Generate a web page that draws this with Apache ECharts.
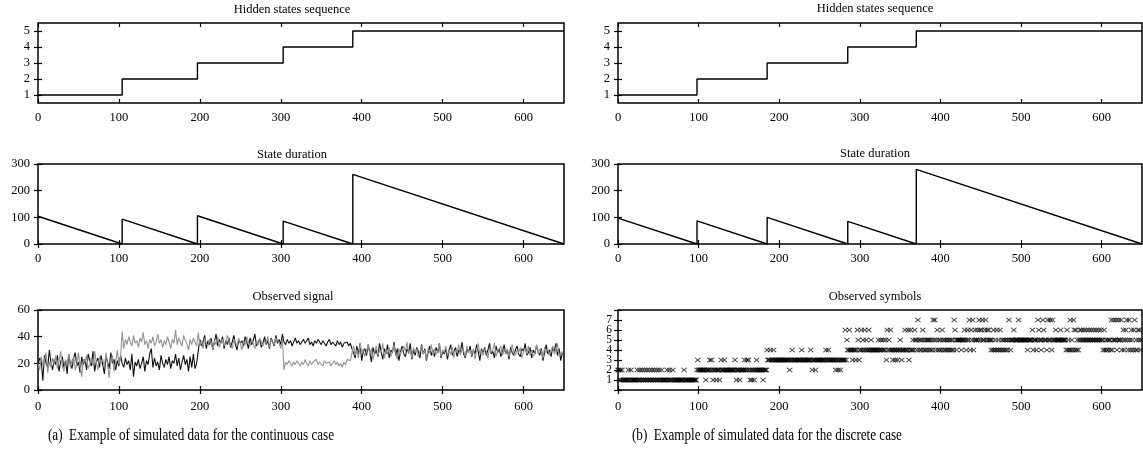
<!DOCTYPE html>
<html>
<head>
<meta charset="utf-8">
<script src="https://cdn.jsdelivr.net/npm/echarts@6/dist/echarts.min.js"></script>
<style>
  html, body { margin: 0; padding: 0; background: #fff; }
  #chart { width: 1143px; height: 456px; }
</style>
</head>
<body>
<div id="chart"></div>
<script>
// ---------- tick labels ----------
const xTicks = [0, 100, 200, 300, 400, 500, 600];
const stateTicks = [1, 2, 3, 4, 5];
const durationTicks = [0, 100, 200, 300];
const signalTicks = [0, 20, 40, 60];
const symbolTicks = [1, 2, 3, 4, 5, 6, 7];
const seqEnd = 650;

// ---------- continuous case ----------
const contStateStarts = [0, 104, 197, 303, 389];
const contDurations = [104, 93, 106, 86, 261];

// observed signal, one sample every 2 time steps
const signalStep = 2;
const signalBlack = [
  18, 24, 22, 7, 26, 20, 17, 30, 21, 15,
  23, 19, 26, 14, 21, 25, 17, 22, 12, 27,
  20, 16, 24, 28, 18, 21, 13, 25, 19, 23,
  15, 27, 22, 18, 29, 14, 21, 24, 17, 26,
  19, 12, 25, 21, 16, 28, 20, 23, 15, 22,
  18, 26,
  20, 17, 24, 19, 22, 15, 27, 10, 21, 18,
  23, 16, 20, 25, 14, 22, 19, 27, 31, 17,
  24, 18, 21, 15, 26, 20, 17, 23, 19, 25,
  16, 22, 20, 27, 18, 24, 15, 21, 26, 19,
  23, 14, 25, 17, 27, 16, 20,
  29, 38, 33, 36, 41, 31, 37, 34, 39, 30,
  36, 42, 33, 38, 35, 40, 31, 37, 34, 39,
  32, 36, 41, 34, 30, 38, 35, 37, 33, 40,
  36, 31, 39, 34, 37, 42, 33, 36, 38, 32,
  35, 40, 34, 37, 31, 39, 36, 33, 41, 35,
  38, 34, 42,
  36, 34, 38, 35, 37, 33, 36, 39, 35, 37,
  34, 36, 38, 35, 37, 39, 34, 36, 33, 37,
  35, 38, 36, 34, 37, 35, 33, 36, 38, 34,
  36, 35, 33, 37, 34, 36, 32, 35, 34, 36,
  33, 35, 31,
  30, 24, 33, 27, 35, 22, 29, 31, 26, 34,
  28, 21, 32, 27, 30, 25, 35, 29, 23, 31,
  27, 34, 24, 30, 28, 36, 26, 31, 22, 29,
  33, 27, 25, 31, 28, 35, 23, 30, 26, 32,
  29, 24, 34, 27, 31, 22, 28, 33, 26, 30,
  25, 32, 28, 35, 24, 29, 27, 31, 23, 30,
  34, 26, 29, 32, 25, 30, 28, 36, 27, 24,
  31, 28, 33, 25, 30, 27, 34, 29, 22, 31,
  28, 32, 26, 30, 35, 27, 29, 24, 33, 28,
  31, 25, 29, 34, 27, 30, 23, 32, 28, 26,
  30, 33, 27, 25, 31, 29, 35, 26, 28, 32,
  24, 30, 27, 33, 29, 26, 31, 22, 28, 34,
  27, 30, 25, 32, 29, 35, 26, 31, 22, 28
];
const signalGray = [
  20, 15, 25, 18, 22, 28, 13, 21, 17, 24,
  19, 26, 16, 22, 29, 18, 14, 23, 20, 27,
  17, 22, 25, 15, 20, 28, 18, 10, 23, 21,
  26, 16, 19, 24, 18, 29, 21, 15, 25, 20,
  23, 17, 28, 19, 9, 22, 26, 14, 21, 30,
  19, 24,
  44, 31, 38, 34, 40, 36, 33, 41, 35, 37,
  32, 39, 36, 43, 34, 37, 31, 38, 35, 40,
  33, 36, 42, 35, 38, 32, 37, 34, 40, 36,
  31, 38, 35, 45, 34, 39, 36, 33, 41, 37,
  35, 30, 38, 34, 39, 36, 33,
  43, 34, 37, 31, 39, 35, 33, 38, 36, 30,
  37, 34, 40, 32, 36, 38, 33, 35, 41, 37,
  34, 31, 38, 36, 33, 39, 35, 30, 37, 34,
  40, 36, 33, 38, 35, 31, 37, 34, 39, 36,
  33, 37, 35, 40, 32, 38, 36, 34, 39, 37,
  35, 31, 38,
  15, 21, 19, 22, 20, 18, 21, 19, 22, 20,
  18, 21, 19, 23, 20, 18, 22, 19, 21, 20,
  23, 19, 21, 20, 18, 22, 20, 19, 21, 18,
  20, 22, 19, 21, 18, 20, 17, 21, 19, 23,
  24, 22, 28,
  33, 26, 30, 24, 35, 28, 31, 25, 29, 34,
  27, 31, 23, 29, 33, 26, 30, 28, 35, 24,
  30, 27, 32, 25, 29, 34, 28, 23, 31, 27,
  26, 33, 29, 36, 27, 30, 24, 32, 28, 31,
  25, 29, 33, 27, 30, 23, 31, 28, 34, 26,
  31, 27, 29, 35, 25, 30, 28, 33, 26, 29,
  27, 32, 24, 30, 28, 34, 26, 31, 29, 25,
  33, 28, 30, 26, 31, 23, 29, 35, 27, 30,
  26, 31, 29, 24, 32, 28, 30, 35, 25, 29,
  28, 33, 26, 30, 27, 31, 25, 29, 34, 28,
  26, 30, 28, 32, 24, 29, 31, 27, 33, 26,
  30, 25, 28, 34, 27, 31, 29, 24, 32, 28,
  31, 26, 29, 33, 27, 30, 35, 25, 28, 29
];

// ---------- discrete case ----------
const discStateStarts = [0, 98, 185, 285, 370];
const discDurations = [97, 87, 100, 85, 280];

// observed symbol at every time step 0..649
const symbols = [
  2,2,1,2,1,2,1,1,1,1, 1,1,1,2,1,1,2,1,1,1, 1,1,1,1,2,1,1,2,1,1, 2,1,1,2,1,1,2,1,1,2,
  1,1,2,1,1,2,1,1,2,1, 1,2,1,1,2,1,1,1,1,1, 1,2,1,1,2,1,1,1,2,1, 1,1,1,1,1,1,1,1,1,1,
  1,1,2,1,1,1,1,1,1,1, 1,1,1,1,1,1,1,1,2,3, 2,2,2,2,2,2,2,2,2,1, 2,2,2,2,3,2,3,2,1,2,
  2,2,1,2,2,2,1,2,3,2, 2,2,3,2,2,2,2,2,2,2, 2,2,2,2,2,3,2,1,2,2, 2,1,2,2,2,2,2,3,2,2,
  3,2,3,2,1,2,1,2,2,1, 2,2,3,2,2,2,2,2,2,2, 1,2,2,2,2,4,3,3,3,4, 3,3,3,4,3,3,3,3,3,3,
  3,3,3,3,3,3,3,3,3,3, 3,3,3,2,3,3,4,3,3,3, 3,3,3,3,3,3,3,3,4,3, 3,3,3,3,3,3,3,3,3,4,
  3,2,3,3,3,2,3,3,3,3, 3,3,3,3,3,3,3,3,4,3, 3,4,3,3,3,3,3,3,3,3, 2,3,3,2,3,3,2,3,3,3,
  3,3,6,3,5,4,4,6,4,4, 4,3,4,4,4,3,4,6,5,3, 4,4,6,4,5,4,6,4,5,4, 4,6,4,4,5,4,4,4,4,4,
  4,4,4,5,4,4,5,4,4,5, 4,4,5,3,6,4,5,4,6,4, 4,3,4,4,3,4,4,3,4,4, 5,4,3,4,4,4,6,4,4,4,
  6,3,4,6,4,4,5,4,6,5, 5,4,7,5,4,5,4,5,6,4, 5,4,5,4,5,5,4,5,4,5, 4,7,5,7,4,5,6,4,5,4,
  5,4,6,5,4,5,4,5,4,5, 4,5,4,5,4,5,4,7,6,5, 4,5,5,5,5,5,4,5,5,5, 6,5,4,5,6,5,7,4,6,5,
  7,4,5,6,5,5,6,5,7,6, 5,6,7,5,5,6,7,5,6,5, 6,5,5,4,5,4,6,4,5,4, 6,4,5,4,6,4,5,4,5,4,
  5,4,5,4,5,7,5,4,5,5, 5,6,5,5,5,5,5,7,5,5, 5,5,5,5,5,5,5,5,4,5, 5,5,5,5,6,4,5,5,5,4,
  5,7,6,5,5,4,5,7,6,5, 5,5,4,7,5,5,7,5,4,7, 5,5,5,6,5,5,5,5,5,6, 5,5,5,5,5,5,4,6,4,5,
  4,7,4,5,4,7,6,4,6,4, 5,4,5,6,5,6,5,5,6,5, 5,6,5,5,6,5,5,6,5,5, 6,5,5,6,5,5,6,5,5,6,
  5,5,4,6,4,5,4,5,4,5, 5,4,7,4,5,7,5,5,7,4, 5,7,5,5,7,4,5,6,4,5, 6,7,5,4,7,5,4,6,5,4,
  6,7,4,5,4,6,5,6,4,5
];

// ---------- derived series ----------
function stateSteps(starts) {
  const pts = starts.map((s, i) => [s, i + 1]);
  pts.push([seqEnd, starts.length]);
  return pts;
}
function durationSaw(starts, durs) {
  const pts = [];
  starts.forEach((s, i) => {
    const e = i + 1 < starts.length ? starts[i + 1] : seqEnd;
    pts.push([s, durs[i]], [e, 0]);
  });
  return pts;
}

const FONT = '"Liberation Serif", "DejaVu Serif", serif';
const LEFT_X = 38, LEFT_W = 526, RIGHT_X = 618, RIGHT_W = 524;
const ROWS = [{ top: 23, height: 80 }, { top: 164, height: 80 }, { top: 310, height: 80 }];

const grids = [];
[LEFT_X, RIGHT_X].forEach((lx, c) => {
  ROWS.forEach(r => {
    grids.push({
      left: lx, top: r.top, width: c === 0 ? LEFT_W : RIGHT_W, height: r.height,
      show: true, borderColor: '#000', borderWidth: 1.5, backgroundColor: 'transparent',
      containLabel: false
    });
  });
});

const tickStyle = { color: '#000', width: 1.2 };
const xAxes = [], yAxes = [];
const yDefs = [
  { min: 0.5, max: 5.5, ticks: stateTicks },
  { min: 0, max: 300, ticks: durationTicks },
  { min: 0, max: 60, ticks: signalTicks },
  { min: 0.5, max: 5.5, ticks: stateTicks },
  { min: 0, max: 300, ticks: durationTicks },
  { min: 0, max: 8, ticks: null }
];
grids.forEach((g, i) => {
  const labelMargin = (i % 3 === 2) ? 10 : 8;
  ['bottom', 'top'].forEach(pos => {
    xAxes.push({
      type: 'value', gridIndex: i, position: pos, min: 0, max: seqEnd,
      axisLine: { show: false }, splitLine: { show: false },
      axisTick: { show: true, inside: true, length: 4, lineStyle: tickStyle, customValues: xTicks },
      axisLabel: {
        show: pos === 'bottom', customValues: xTicks, margin: labelMargin,
        color: '#000', fontFamily: FONT, fontSize: 12.5
      }
    });
  });
  const yd = yDefs[i];
  ['left', 'right'].forEach(pos => {
    const ax = {
      type: 'value', gridIndex: i, position: pos, min: yd.min, max: yd.max,
      axisLine: { show: false }, splitLine: { show: false },
      axisTick: { show: true, inside: true, length: 4, lineStyle: tickStyle },
      axisLabel: {
        show: pos === 'left', margin: 8,
        color: '#000', fontFamily: FONT, fontSize: 12.5
      }
    };
    if (yd.ticks) {
      ax.axisTick.customValues = yd.ticks;
      ax.axisLabel.customValues = yd.ticks;
    } else {
      // symbol axis: unit steps, labels only for the symbols 1..7
      ax.interval = 1;
      ax.axisLabel.margin = 6;
      ax.axisLabel.fontSize = 11.5;
      ax.axisLabel.lineHeight = 10;
      ax.axisLabel.hideOverlap = false;
      ax.axisLabel.formatter = v => (symbolTicks.indexOf(v) >= 0 ? String(v) : '');
    }
    yAxes.push(ax);
  });
});

function lineSeries(grid, data, color, width, step) {
  return {
    type: 'line', xAxisIndex: grid * 2, yAxisIndex: grid * 2, data: data,
    step: step || false, showSymbol: false, symbol: 'none', silent: true,
    lineStyle: { color: color, width: width }, animation: false
  };
}

const series = [
  lineSeries(0, stateSteps(contStateStarts), '#000', 1.4, 'end'),
  lineSeries(1, durationSaw(contStateStarts, contDurations), '#000', 1.4),
  lineSeries(2, signalBlack.map((v, k) => [k * signalStep, v]), '#111', 1.1),
  lineSeries(2, signalGray.map((v, k) => [k * signalStep, v]), '#939393', 1.1),
  lineSeries(3, stateSteps(discStateStarts), '#000', 1.4, 'end'),
  lineSeries(4, durationSaw(discStateStarts, discDurations), '#000', 1.4),
  {
    type: 'scatter', xAxisIndex: 10, yAxisIndex: 10, silent: true, animation: false,
    data: symbols.map((s, t) => [t, s]),
    symbol: 'path://M0,1.2L1.2,0L5,3.8L8.8,0L10,1.2L6.2,5L10,8.8L8.8,10L5,6.2L1.2,10L0,8.8L3.8,5Z',
    symbolSize: [6, 5],
    itemStyle: { color: '#000' }
  }
];

function panelTitle(text, cx, top) {
  return {
    text: text, left: cx, top: top, textAlign: 'center', padding: 0,
    textStyle: { fontFamily: FONT, fontSize: 12.5, fontWeight: 'normal', color: '#000' }
  };
}

const option = {
  backgroundColor: '#fff',
  animation: false,
  title: [
    panelTitle('Hidden states sequence', 292, 3),
    panelTitle('State duration', 292, 148),
    panelTitle('Observed signal', 293, 290),
    panelTitle('Hidden states sequence', 875, 2),
    panelTitle('State duration', 875, 147),
    panelTitle('Observed symbols', 875, 290)
  ],
  grid: grids,
  xAxis: xAxes,
  yAxis: yAxes,
  series: series,
  graphic: [
    {
      type: 'text', left: 48, top: 428, scaleX: 0.82,
      style: { text: '(a)  Example of simulated data for the continuous case', font: '16px ' + FONT, fill: '#000' }
    },
    {
      type: 'text', left: 632, top: 428, scaleX: 0.82,
      style: { text: '(b)  Example of simulated data for the discrete case', font: '16px ' + FONT, fill: '#000' }
    }
  ]
};

const chart = echarts.init(document.getElementById('chart'), null, { renderer: 'canvas' });
chart.setOption(option);
</script>
</body>
</html>
